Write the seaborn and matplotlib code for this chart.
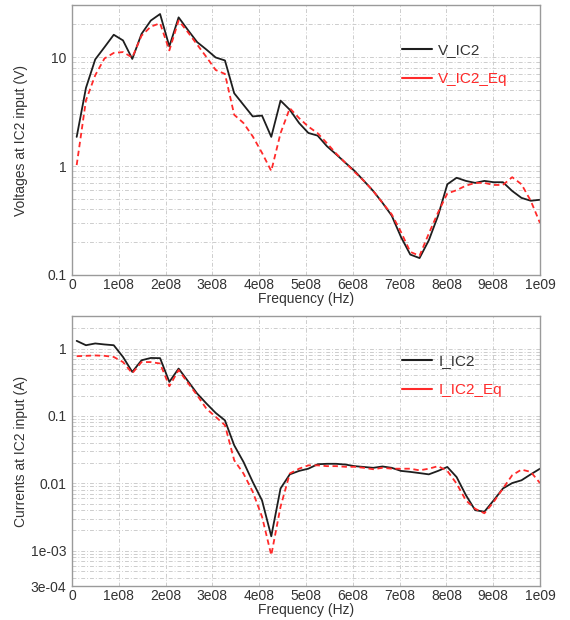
import numpy as np
import pandas as pd
import matplotlib
matplotlib.use("Agg")
import matplotlib.pyplot as plt
from matplotlib.lines import Line2D
from matplotlib.ticker import FixedLocator, FixedFormatter, LogLocator, NullFormatter
import seaborn as sns

# frequency grid, 51 points from 10 MHz to 1 GHz
FREQ = np.linspace(1e7, 1e9, 51)

V_IC2 = [1.85, 5.2, 9.5, 12.3, 16.0, 14.2, 9.6, 16.3, 21.6, 24.8,
         12.5, 23.1, 17.7, 13.7, 11.7, 9.9, 9.3, 4.65, 3.64, 2.85,
         2.9, 1.85, 3.98, 3.28, 2.48, 2.01, 1.90, 1.52, 1.28, 1.07,
         0.90, 0.73, 0.59, 0.46, 0.35, 0.223, 0.154, 0.143, 0.208, 0.35,
         0.68, 0.78, 0.73, 0.70, 0.73, 0.71, 0.71, 0.59, 0.51, 0.48, 0.49]
V_IC2_EQ = [1.02, 4.0, 6.8, 9.7, 10.9, 11.1, 9.9, 15.7, 19.0, 20.4,
            11.5, 21.6, 16.9, 13.0, 10.0, 7.6, 7.0, 2.95, 2.48, 1.87,
            1.32, 0.90, 2.0, 3.39, 2.75, 2.3, 2.0, 1.62, 1.3, 1.07,
            0.88, 0.73, 0.59, 0.46, 0.36, 0.248, 0.163, 0.15, 0.24, 0.375,
            0.56, 0.60, 0.66, 0.70, 0.70, 0.67, 0.67, 0.79, 0.68, 0.48, 0.30]

I_IC2 = [1.30, 1.12, 1.19, 1.15, 1.12, 0.75, 0.45, 0.67, 0.725, 0.72,
         0.32, 0.505, 0.33, 0.215, 0.153, 0.111, 0.086, 0.0367, 0.0208, 0.0105,
         0.0056, 0.00164, 0.0084, 0.0136, 0.0153, 0.0165, 0.0192, 0.0195, 0.0195, 0.019,
         0.018, 0.0175, 0.017, 0.0178, 0.017, 0.0153, 0.0148, 0.0142, 0.0136, 0.0153,
         0.0175, 0.0124, 0.0067, 0.0040, 0.0038, 0.0056, 0.0084, 0.0101, 0.0111, 0.0136, 0.0165]
I_IC2_EQ = [0.77, 0.78, 0.79, 0.78, 0.75, 0.63, 0.43, 0.63, 0.63, 0.60,
            0.276, 0.48, 0.31, 0.203, 0.128, 0.097, 0.073, 0.022, 0.0140, 0.0075,
            0.0032, 0.00086, 0.0045, 0.014, 0.0165, 0.0185, 0.0185, 0.018, 0.018, 0.0176,
            0.0176, 0.017, 0.0162, 0.017, 0.0165, 0.0165, 0.0165, 0.0156, 0.0165, 0.018,
            0.0153, 0.0099, 0.0056, 0.0042, 0.0036, 0.0053, 0.0084, 0.0132, 0.016, 0.0148, 0.0101]

X_TICKS = [0, 1e8, 2e8, 3e8, 4e8, 5e8, 6e8, 7e8, 8e8, 9e8, 1e9]
X_LABELS = ["0", "1e08", "2e08", "3e08", "4e08", "5e08", "6e08", "7e08", "8e08", "9e08", "1e09"]
V_TICKS = [0.1, 1, 10]
V_LABELS = ["0.1", "1", "10"]
I_TICKS = [3e-4, 1e-3, 0.01, 0.1, 1]
I_LABELS = ["3e-04", "1e-03", "0.01", "0.1", "1"]

BLACK = "#1e1e1e"
RED = "#ff2a2a"
GRID = "#cdcdcd"

sns.set_style("white")
plt.rcParams["font.family"] = ["Liberation Sans", "DejaVu Sans"]

fig = plt.figure(figsize=(5.7, 6.2), dpi=100)
ax_v = fig.add_axes([72 / 570, 1 - 275 / 620, 468 / 570, 270 / 620])
ax_i = fig.add_axes([72 / 570, 1 - 586 / 620, 468 / 570, 270 / 620])

v_df = pd.DataFrame({"freq": FREQ, "V_IC2": V_IC2, "V_IC2_Eq": V_IC2_EQ})
i_df = pd.DataFrame({"freq": FREQ, "I_IC2": I_IC2, "I_IC2_Eq": I_IC2_EQ})


def style_axes(ax, ylim, yticks, ylabels, ylabel):
    ax.set_yscale("log")
    ax.set_xlim(0, 1e9)
    ax.set_ylim(*ylim)
    ax.xaxis.set_major_locator(FixedLocator(X_TICKS))
    ax.xaxis.set_major_formatter(FixedFormatter(X_LABELS))
    ax.yaxis.set_major_locator(FixedLocator(yticks))
    ax.yaxis.set_major_formatter(FixedFormatter(ylabels))
    ax.yaxis.set_minor_locator(LogLocator(base=10, subs=np.arange(2, 10), numticks=20))
    ax.yaxis.set_minor_formatter(NullFormatter())
    ax.grid(which="major", color=GRID, linestyle=(0, (4, 2, 1, 2)), linewidth=0.7)
    ax.grid(which="minor", axis="y", color=GRID, linestyle=(0, (4, 2, 1, 2)), linewidth=0.7)
    ax.tick_params(which="both", length=0, labelsize=10, labelcolor="#333333")
    ax.tick_params(axis="x", pad=2)
    ax.tick_params(axis="y", pad=4)
    for spine in ax.spines.values():
        spine.set_color("#9a9a9a")
        spine.set_linewidth(1.0)
    ax.set_xlabel("Frequency (Hz)", fontsize=10, color="#333333", labelpad=0)
    ax.set_ylabel(ylabel, fontsize=10, color="#333333")
    ax.yaxis.set_label_coords(-0.093, 0.5)


sns.lineplot(data=v_df, x="freq", y="V_IC2", ax=ax_v, color=BLACK, linewidth=1.3)
sns.lineplot(data=v_df, x="freq", y="V_IC2_Eq", ax=ax_v, color=RED, linewidth=1.3,
             linestyle=(0, (3, 2)))
style_axes(ax_v, (0.1, 30), V_TICKS, V_LABELS, "Voltages at IC2 input (V)")

sns.lineplot(data=i_df, x="freq", y="I_IC2", ax=ax_i, color=BLACK, linewidth=1.3)
sns.lineplot(data=i_df, x="freq", y="I_IC2_Eq", ax=ax_i, color=RED, linewidth=1.3,
             linestyle=(0, (3, 2)))
style_axes(ax_i, (3e-4, 3.04), I_TICKS, I_LABELS, "Currents at IC2 input (A)")

for ax, names in ((ax_v, ("V_IC2", "V_IC2_Eq")), (ax_i, ("I_IC2", "I_IC2_Eq"))):
    handles = [Line2D([], [], color=BLACK, linewidth=1.5),
               Line2D([], [], color=RED, linewidth=1.5)]
    leg = ax.legend(handles, names, loc="upper left", bbox_to_anchor=(0.675, 0.91),
                    frameon=False, fontsize=11, handlelength=2.0, handletextpad=0.4,
                    labelspacing=1.0, labelcolor="linecolor")
    leg.get_texts()[0].set_color("#333333")

fig.savefig("out.png", dpi=100)
